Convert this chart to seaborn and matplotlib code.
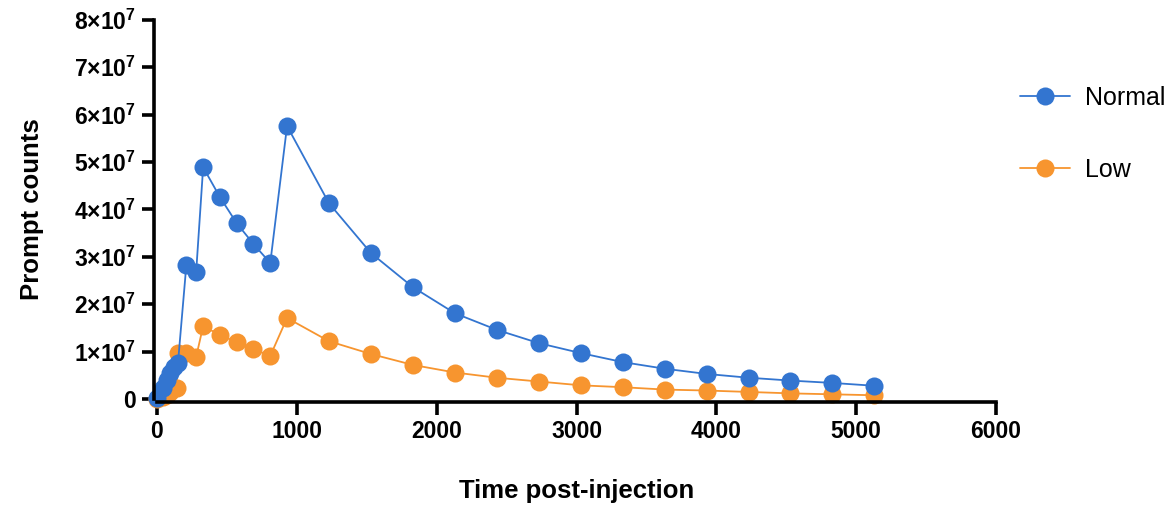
import pandas as pd
import matplotlib.pyplot as plt
import seaborn as sns
from matplotlib.lines import Line2D

# time post-injection and prompt counts
normal_time = [0, 40, 70, 95, 125, 150, 210, 280, 330, 450, 570, 690, 810, 930,
               1230, 1530, 1830, 2130, 2430, 2730, 3030, 3330, 3630, 3930, 4230,
               4530, 4830, 5130]
normal_counts = [0.02e7, 0.23e7, 0.40e7, 0.55e7, 0.68e7, 0.76e7, 2.83e7, 2.68e7,
                 4.89e7, 4.26e7, 3.71e7, 3.27e7, 2.87e7, 5.76e7, 4.13e7, 3.08e7,
                 2.36e7, 1.81e7, 1.46e7, 1.18e7, 0.97e7, 0.78e7, 0.64e7, 0.53e7,
                 0.45e7, 0.39e7, 0.34e7, 0.28e7]
low_time = [0, 40, 70, 95, 140, 150, 210, 280, 330, 450, 570, 690, 810, 930,
            1230, 1530, 1830, 2130, 2430, 2730, 3030, 3330, 3630, 3930, 4230,
            4530, 4830, 5130]
low_counts = [0.0, 0.04e7, 0.08e7, 0.14e7, 0.23e7, 0.97e7, 0.97e7, 0.89e7,
              1.54e7, 1.35e7, 1.20e7, 1.05e7, 0.91e7, 1.71e7, 1.22e7, 0.95e7,
              0.72e7, 0.56e7, 0.45e7, 0.37e7, 0.29e7, 0.25e7, 0.20e7, 0.18e7,
              0.15e7, 0.12e7, 0.10e7, 0.08e7]
groups = ["Normal", "Low"]
colors = {"Normal": "#3375D0", "Low": "#F7952F"}

df = pd.concat([
    pd.DataFrame({"time": normal_time, "counts": normal_counts, "group": "Normal"}),
    pd.DataFrame({"time": low_time, "counts": low_counts, "group": "Low"}),
])

sns.set_style("ticks")
plt.rcParams["font.family"] = ["Liberation Sans", "DejaVu Sans"]
plt.rcParams["mathtext.fontset"] = "custom"
plt.rcParams["mathtext.rm"] = "Liberation Sans"
plt.rcParams["mathtext.bf"] = "Liberation Sans:bold"
plt.rcParams["text.color"] = "black"
plt.rcParams["axes.labelcolor"] = "black"

fig = plt.figure(figsize=(11.76, 5.09), dpi=100)
ax = fig.add_axes([0.1335, 0.216, 0.7135, 0.745])

# spines first: moving them resets the ticks
for side in ["top", "right"]:
    ax.spines[side].set_visible(False)
for side in ["left", "bottom"]:
    ax.spines[side].set_linewidth(2.6)
    ax.spines[side].set_color("black")
    ax.spines[side].set_position(("outward", 2))

# orange first so the blue sits on top
sns.lineplot(data=df, x="time", y="counts", hue="group", hue_order=["Low", "Normal"],
             palette=colors, marker="o", markersize=13, markeredgewidth=0,
             linewidth=1.3, sort=False, estimator=None, legend=False, ax=ax)
for ln in ax.lines:
    ln.set_clip_on(False)

ax.set_xlim(0, 6000)
ax.set_ylim(0, 8e7)
xt = list(range(0, 6001, 1000))
ax.set_xticks(xt)
ax.set_xticklabels([str(v) for v in xt], fontweight="bold")
yt = [i * 1e7 for i in range(9)]
ax.set_yticks(yt)
ax.set_yticklabels(["0"] + [r"$\mathbf{%d{\times}10^{7}}$" % i for i in range(1, 9)],
                   fontweight="bold")
ax.tick_params(width=2.6, length=9, pad=4, colors="black", labelsize=16.5)

ax.set_xlabel("Time post-injection", fontsize=18.5, fontweight="bold", labelpad=26)
ax.set_ylabel("Prompt counts", fontsize=18.5, fontweight="bold", labelpad=22)

handles = [Line2D([], [], color=colors[g], marker="o", markersize=13,
                  markeredgewidth=0, linewidth=1.3) for g in groups]
fig.legend(handles, groups, loc="upper left", bbox_to_anchor=(0.848, 0.875),
           frameon=False, fontsize=18, labelspacing=1.9, handlelength=2.0,
           handletextpad=0.6)

fig.savefig("out.png", dpi=100)
